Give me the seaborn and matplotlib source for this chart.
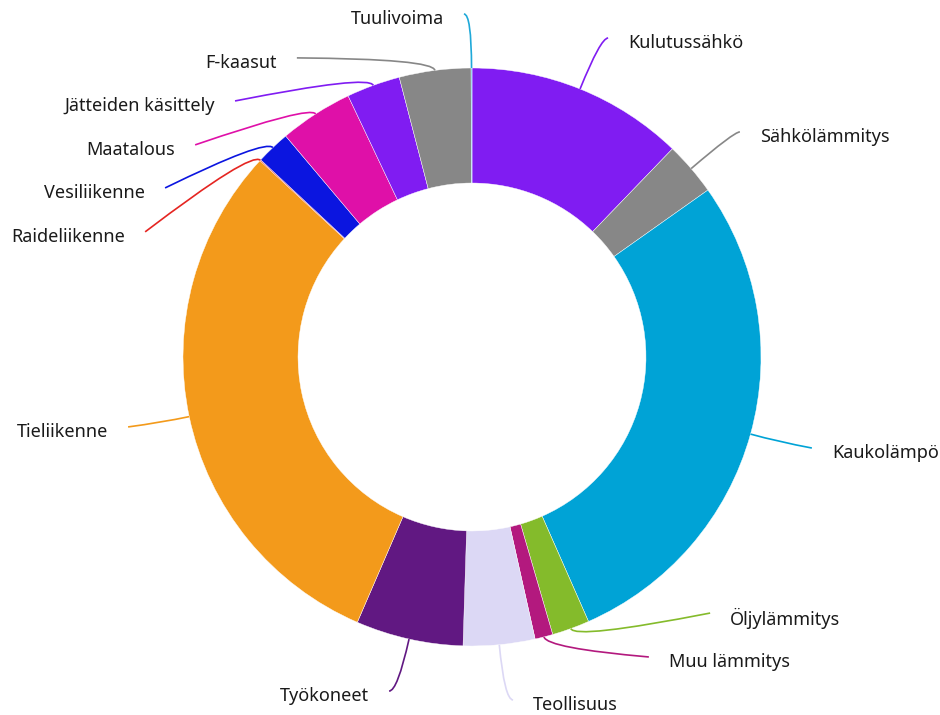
import numpy as np
import matplotlib.pyplot as plt
import seaborn as sns
from matplotlib.path import Path
from matplotlib.patches import PathPatch

# --- Data (share of emissions, %) ---
categories = [
    'Kulutussähkö', 'Sähkölämmitys', 'Kaukolämpö', 'Öljylämmitys',
    'Muu lämmitys', 'Teollisuus', 'Työkoneet', 'Tieliikenne',
    'Raideliikenne', 'Vesiliikenne', 'Maatalous', 'Jätteiden käsittely',
    'F-kaasut', 'Tuulivoima',
]
shares = [12.2, 3.0, 28.2, 2.1, 1.0, 4.0, 6.0, 30.4, 0.06, 1.9, 4.1, 3.0, 4.0, 0.05]

# --- Styles ---
colors = [
    '#801cf2', '#878787', '#00a3d6', '#84bb2b',
    '#b3197e', '#dcd8f5', '#611882', '#f39a1b',
    '#e52521', '#0b15e0', '#df10a8', '#801cf2',
    '#878787', '#1fa9d9',
]

# label layout in units of outer radius: leader end point and elbow radius
label_end_x = [0.471, 0.927, 1.176, 0.824, 0.612, 0.142, -0.287, -1.190,
               -1.131, -1.062, -0.958, -0.820, -0.606, -0.028]
label_end_y = [1.104, 0.779, -0.315, -0.886, -1.038, -1.187, -1.156, -0.242,
               0.433, 0.585, 0.734, 0.886, 1.035, 1.187]
elbow_r = [1.19, 1.194, 1.10, 1.04, 1.04, 1.19, 1.185, 1.10,
           1.045, 1.04, 1.035, 1.04, 1.04, 1.187]

sns.set_theme(style='white')
plt.rcParams['font.family'] = ['Noto Sans', 'DejaVu Sans']

W, H, DPI = 940, 715, 100
R_PX = 289.0
CX, CY = 472.0, 357.0

fig = plt.figure(figsize=(W / DPI, H / DPI), dpi=DPI)
ax = fig.add_axes([0, 0, 1, 1])

ax.pie(shares, colors=colors, startangle=90, counterclock=False, radius=1.0,
       wedgeprops=dict(width=0.398, edgecolor='white', linewidth=0.3))

# leader lines + labels
total = sum(shares)
cum = np.cumsum(shares)
gap = 20 / R_PX
for i, name in enumerate(categories):
    theta = np.deg2rad(360 * (cum[i] - shares[i] / 2) / total)
    d = np.array([np.sin(theta), np.cos(theta)])
    p0 = d * 1.0
    c = d * elbow_r[i]
    p2 = np.array([label_end_x[i], label_end_y[i]])
    path = Path([p0, c, p2], [Path.MOVETO, Path.CURVE3, Path.CURVE3])
    ax.add_patch(PathPatch(path, facecolor='none', edgecolor=colors[i], lw=1.2))
    right = p2[0] > c[0]
    tx = p2[0] + gap if right else p2[0] - gap
    ax.text(tx, p2[1] - 5 / R_PX, name, ha='left' if right else 'right',
            va='center', fontsize=13, color='#1a1a1a')

ax.set_xlim(-CX / R_PX, (W - CX) / R_PX)
ax.set_ylim(-(H - CY) / R_PX, CY / R_PX)
ax.set_aspect('auto')
ax.axis('off')

fig.savefig('out.png', dpi=DPI, facecolor='white')
